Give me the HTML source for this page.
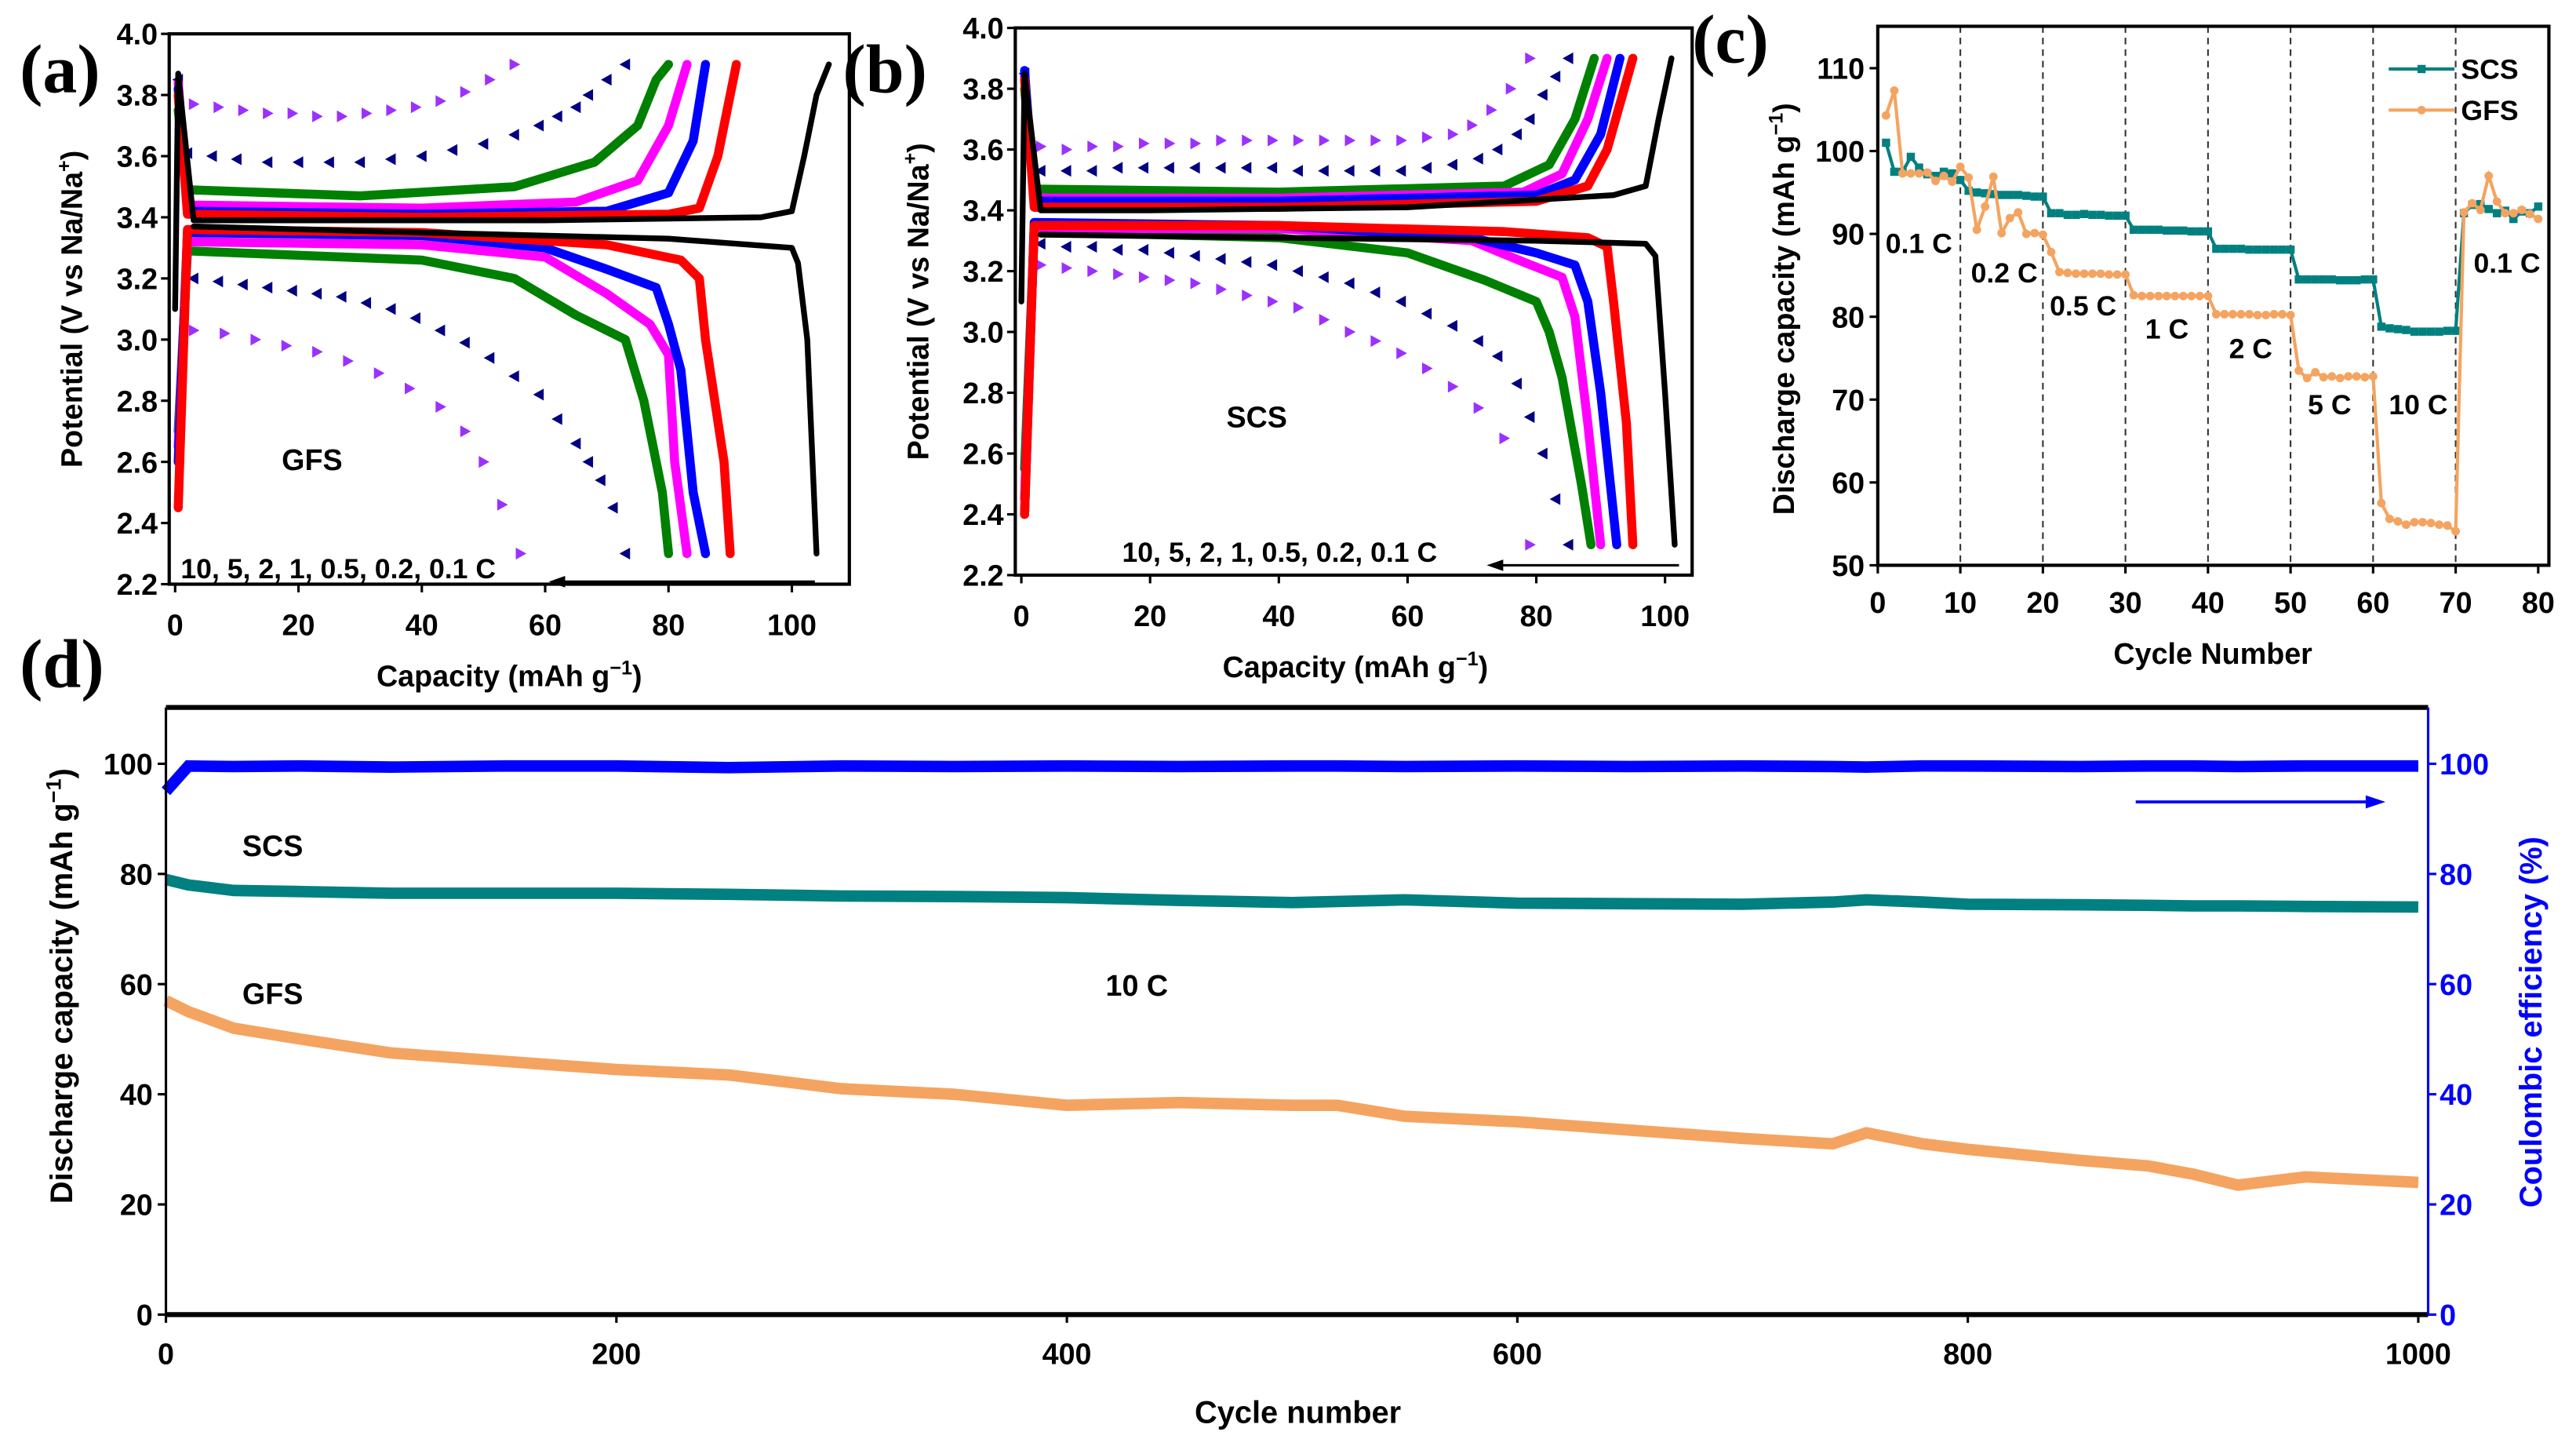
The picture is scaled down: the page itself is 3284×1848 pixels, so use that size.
<!DOCTYPE html>
<html><head><meta charset="utf-8"><style>
html,body{margin:0;padding:0;background:#fff;}
svg{display:block;}
text{font-family:"Liberation Sans",sans-serif;font-weight:bold;}
.pl{font-family:"Liberation Serif",serif;font-weight:bold;font-size:42px;}
</style></head><body>
<svg id="fig" width="3284" height="1848" viewBox="0 0 1568 882.4" preserveAspectRatio="none" xmlns="http://www.w3.org/2000/svg"></svg>
<script>
// ---------- Panel (a) GFS charge/discharge ----------
const rateNames = ["0.1C","0.2C","0.5C","1C","2C","5C","10C"];
const aChargeCap = [
 [0,0.5,3,20,60,95,100,102,104,106],
 [0.5,2,40,80,85,88,91],
 [0.5,2,40,70,80,84,86],
 [0.5,2,40,65,75,80,83],
 [0.5,2,30,55,68,75,78,80],
 [0.5,2,6,10,15,20,25,30,35,40,45,50,55,59,62,65,67,70,73],
 [3,7,11,15,19,23,27,31,35,39,43,47,51,55]];
const aChargeV = [
 [3.1,3.87,3.39,3.39,3.39,3.40,3.42,3.6,3.8,3.9],
 [3.8,3.41,3.40,3.41,3.43,3.6,3.9],
 [3.82,3.42,3.41,3.42,3.48,3.65,3.9],
 [3.84,3.44,3.43,3.45,3.52,3.7,3.9],
 [3.75,3.49,3.47,3.5,3.58,3.7,3.85,3.9],
 [3.85,3.61,3.60,3.59,3.58,3.58,3.58,3.58,3.59,3.6,3.62,3.64,3.67,3.7,3.73,3.76,3.8,3.85,3.9],
 [3.77,3.76,3.75,3.74,3.74,3.73,3.73,3.74,3.75,3.76,3.78,3.81,3.85,3.9]];
const aDisCap = [
 [3,40,80,100,101,102.5,104],
 [0.5,2,40,70,82,85,86,89,90],
 [0.5,2,40,60,70,78,80,82,84,86],
 [0.5,2,40,60,70,77,80,81,83],
 [0.5,2,40,55,65,73,76,79,80],
 [3,7,11,15,19,23,27,31,35,39,43,47,51,55,59,62,65,67,69,71,73],
 [3,8,13,18,23,28,33,38,43,47,50,53,56]];
const aDisV = [
 [3.37,3.35,3.33,3.30,3.25,3.0,2.3],
 [2.45,3.36,3.35,3.31,3.26,3.2,3.0,2.6,2.3],
 [2.6,3.35,3.34,3.30,3.23,3.17,3.05,2.9,2.5,2.3],
 [2.65,3.32,3.31,3.27,3.15,3.05,2.95,2.6,2.3],
 [2.7,3.29,3.26,3.2,3.08,3.0,2.8,2.5,2.3],
 [3.2,3.19,3.18,3.17,3.16,3.15,3.14,3.12,3.1,3.07,3.03,2.99,2.94,2.88,2.82,2.74,2.66,2.6,2.54,2.45,2.3],
 [3.03,3.02,3.0,2.98,2.96,2.93,2.89,2.84,2.78,2.7,2.6,2.46,2.3]];
// ---------- Panel (b) SCS ----------
const bChargeCap = [
 [0,0.5,3,20,60,92,97,99,101],
 [0.5,2,40,80,88,91,93,95],
 [0.5,2,40,80,86,90,93],
 [0.5,2,40,78,84,88,91],
 [0.5,2,40,75,82,86,89],
 [0.5,3,7,11,15,19,23,27,31,35,39,43,47,51,55,59,63,67,71,74,77,79,81,83,85],
 [3,7,11,15,19,23,27,31,35,39,43,47,51,55,59,63,67,70,73,76,79]];
const bChargeV = [
 [3.1,3.85,3.4,3.4,3.41,3.45,3.48,3.7,3.9],
 [3.83,3.41,3.41,3.43,3.48,3.6,3.75,3.9],
 [3.86,3.43,3.43,3.45,3.5,3.65,3.9],
 [3.84,3.44,3.44,3.46,3.52,3.7,3.9],
 [3.8,3.47,3.46,3.48,3.55,3.7,3.9],
 [3.85,3.53,3.53,3.53,3.54,3.54,3.54,3.54,3.54,3.54,3.54,3.53,3.53,3.53,3.53,3.53,3.54,3.55,3.57,3.6,3.65,3.7,3.78,3.84,3.9],
 [3.61,3.6,3.61,3.61,3.62,3.62,3.62,3.63,3.63,3.63,3.63,3.63,3.63,3.63,3.63,3.64,3.65,3.68,3.73,3.8,3.9]];
const bDisCap = [
 [3,40,80,97,98.5,100,101.5],
 [0.5,2,40,75,88,91,92,94,95],
 [0.5,2,40,70,80,86,88,90,92.5],
 [0.5,2,40,70,78,84,86,88,90],
 [0.5,2,40,60,72,80,82,84,87,88.5],
 [3,7,11,15,19,23,27,31,35,39,43,47,51,55,59,63,67,71,74,77,79,81,83,85],
 [3,7,11,15,19,23,27,31,35,39,43,47,51,55,59,63,67,71,75,79]];
const bDisV = [
 [3.32,3.31,3.3,3.29,3.25,2.8,2.3],
 [2.4,3.35,3.35,3.33,3.31,3.28,3.1,2.7,2.3],
 [2.4,3.36,3.35,3.31,3.26,3.22,3.1,2.8,2.3],
 [2.45,3.34,3.34,3.3,3.23,3.18,3.05,2.7,2.3],
 [2.55,3.33,3.31,3.26,3.17,3.1,3.0,2.85,2.5,2.3],
 [3.29,3.28,3.28,3.27,3.27,3.26,3.25,3.24,3.23,3.22,3.2,3.18,3.16,3.13,3.1,3.06,3.02,2.97,2.92,2.83,2.72,2.6,2.45,2.3],
 [3.22,3.21,3.2,3.19,3.18,3.17,3.16,3.14,3.12,3.1,3.08,3.04,3.0,2.97,2.93,2.88,2.82,2.75,2.65,2.3]];
// ---------- Panel (c) rate ----------
const cCycles = [1,2,3,4,5,6,7,8,9,10,11,12,13,14,15,16,17,18,19,20,21,22,23,24,25,26,27,28,29,30,31,32,33,34,35,36,37,38,39,40,41,42,43,44,45,46,47,48,49,50,51,52,53,54,55,56,57,58,59,60,61,62,63,64,65,66,67,68,69,70,71,72,73,74,75,76,77,78,79,80];
const cSCS = [101,97.5,97.5,99.3,98,97.2,97,97.5,97.3,96.5,95.2,95,94.9,94.8,94.7,94.7,94.7,94.6,94.5,94.5,92.5,92.5,92.3,92.3,92.4,92.3,92.3,92.2,92.2,92.2,90.5,90.5,90.5,90.5,90.4,90.4,90.4,90.3,90.3,90.3,88.2,88.2,88.2,88.2,88.1,88.1,88.1,88.1,88.1,88.1,84.5,84.5,84.5,84.5,84.5,84.4,84.4,84.4,84.5,84.5,78.8,78.6,78.5,78.4,78.2,78.2,78.2,78.2,78.3,78.3,92.5,93.5,93.6,93,92.5,92.8,91.8,92.7,92.5,93.3];
const cGFS = [104.3,107.3,97.3,97.3,97.3,97.4,96.4,97,96.3,98.1,96.8,90.5,93.3,96.9,90.1,91.9,92.6,90,90.1,89.9,87.8,85.4,85.3,85.2,85.2,85.2,85.2,85.1,85.1,85.1,82.6,82.5,82.5,82.5,82.5,82.5,82.5,82.5,82.5,82.5,80.3,80.3,80.3,80.3,80.3,80.2,80.2,80.3,80.3,80.2,73.5,72.6,73.3,72.7,72.8,72.6,72.8,72.8,72.7,72.8,57.5,55.6,55.3,54.9,55.2,55.2,55.1,54.9,54.8,54.1,92.6,93.7,92.9,97,93.9,92.5,92.5,92.9,92.4,91.8];
const cRateLabels = ["0.1 C","0.2 C","0.5 C","1 C","2 C","5 C","10 C","0.1 C"];
// ---------- Panel (d) long cycling ----------
const dCycle = [0,10,30,60,100,150,200,250,300,350,400,450,500,520,550,600,650,700,740,755,780,800,850,880,900,920,950,1000];
const dSCS = [79,78,77,76.8,76.5,76.5,76.5,76.3,76,75.9,75.7,75.2,74.8,75,75.3,74.7,74.6,74.5,74.9,75.3,74.9,74.5,74.4,74.3,74.2,74.2,74.1,74];
const dGFS = [57,55,52,50,47.5,46,44.5,43.5,41,40,38,38.5,38,38,36,35,33.5,32,31,33,31,30,28,27,25.5,23.5,25,24];
const dCE = [95,99.6,99.5,99.6,99.4,99.6,99.6,99.3,99.6,99.5,99.6,99.5,99.6,99.6,99.5,99.6,99.5,99.6,99.5,99.4,99.6,99.6,99.5,99.6,99.6,99.5,99.6,99.6];

const NS="http://www.w3.org/2000/svg";
const svg=document.getElementById('fig');
function mk(tag,attrs,parent){const e=document.createElementNS(NS,tag);for(const k in attrs)e.setAttribute(k,attrs[k]);(parent||svg).appendChild(e);return e;}
function txt(x,y,s,size,attrs,parent){const t=mk('text',Object.assign({x:x,y:y,'font-size':size},attrs||{}),parent);t.textContent=s;return t;}

const colors=["#000000","#ff0000","#0000ff","#ff00ff","#008000","#000080","#9b30ff"];
const shapes=["line","circle","up","down","diamond","left","right"];
function marker(g,x,y,shape,c,r){
  let p;
  if(shape==="circle")return mk('circle',{cx:x,cy:y,r:r,fill:c},g);
  if(shape==="up")p=[[x,y-r],[x+r,y+r*0.8],[x-r,y+r*0.8]];
  if(shape==="down")p=[[x,y+r],[x+r,y-r*0.8],[x-r,y-r*0.8]];
  if(shape==="left")p=[[x-r,y],[x+r*0.8,y-r],[x+r*0.8,y+r]];
  if(shape==="right")p=[[x+r,y],[x-r*0.8,y-r],[x-r*0.8,y+r]];
  if(shape==="diamond")p=[[x,y-r],[x+r,y],[x,y+r],[x-r,y]];
  return mk('polygon',{points:p.map(q=>q.join(',')).join(' '),fill:c},g);
}

function vPanel(name,L,R,T,B,x0,x100,chCap,chV,diCap,diV,label,annX,annY,arrX1,arrX2,lblX,lblY,sampleText,xTitleX,yTitleX){
  const g=mk('g',{});
  
  
  const X=c=>x0+(x100-x0)*c/100, Y=v=>T+(4.0-v)/1.8*(B-T);
  for(let i=6;i>=0;i--){
    const sg=mk('g',{},g);
    
    
    [[chCap[i],chV[i]],[diCap[i],diV[i]]].forEach(([cs,vs])=>{
      if(i<5){
        const pts=cs.map((c,k)=>X(c)+','+Y(vs[k])).join(' ');
        mk('polyline',{points:pts,fill:'none',stroke:colors[i],'stroke-width':i===0?3.5:5.5,'stroke-linejoin':'round','stroke-linecap':'round'},sg);
      } else {
        cs.forEach((c,k)=>marker(sg,X(c),Y(vs[k]),shapes[i],colors[i],3.6));
      }
    });
  }
  const fr=mk('rect',{x:L,y:T,width:R-L,height:B-T,fill:'none',stroke:'#000','stroke-width':2},g);
  
  
  for(let v=2.2;v<=4.001;v+=0.2){
    mk('line',{x1:L,x2:L-5,y1:Y(v),y2:Y(v),stroke:'#000','stroke-width':1.5},g);
    const t=txt(L-7,Y(v)+6.5,v.toFixed(1),18,{'text-anchor':'end'},g);
    
    
  }
  for(let c=0;c<=100;c+=20){
    mk('line',{x1:X(c),x2:X(c),y1:B,y2:B+5,stroke:'#000','stroke-width':1.5},g);
    const t=txt(X(c),B+31,String(c),18,{'text-anchor':'middle'},g);
    
    
  }
  const xt=txt(xTitleX,B+62,'Capacity (mAh g',18,{'text-anchor':'middle'},g);
  const sup=mk('tspan',{dy:-7,'font-size':12},xt);sup.textContent='−1';
  const cl=mk('tspan',{dy:7},xt);cl.textContent=')';
  
  
  const yt=txt(0,0,'Potential (V vs Na/Na',18,{'text-anchor':'middle',transform:`translate(${yTitleX},${(T+B)/2}) rotate(-90)`},g);
  const s2=mk('tspan',{dy:-7,'font-size':12},yt);s2.textContent='+';
  const c2=mk('tspan',{dy:7},yt);c2.textContent=')';
  
  
  const st=txt(lblX,lblY,sampleText,18,{'text-anchor':'middle'},g);
  
  
  const an=txt(annX,annY,'10, 5, 2, 1, 0.5, 0.2, 0.1 C',17,{},g);
  
  
  const ar=mk('g',{},g);
  
  
  mk('line',{x1:arrX1,x2:arrX2+8,y1:annY+2,y2:annY+2,stroke:'#000','stroke-width':1.5},ar);
  mk('polygon',{points:`${arrX2},${annY+2} ${arrX2+10},${annY-1.5} ${arrX2+10},${annY+5.5}`,fill:'#000'},ar);
  const pl=txt(label[1],label[2],label[0],44,{class:'pl'});
  
  
}
vPanel('panel-a-gfs-voltage',103,517,20.6,355.5,106.6,482,aChargeCap,aChargeV,aDisCap,aDisV,['(a)',12,56],110,352,496,334,190,286,'GFS',310,50);
vPanel('panel-b-scs-voltage',618,1030,17,350,621.7,1013.5,bChargeCap,bChargeV,bDisCap,bDisV,['(b)',513,56],683,342,1022,905,765,260,'SCS',825,565);

// ---------- panel c ----------
(function(){
  const g=mk('g',{});
  
  
  const L=1143,R=1551.5,T=16,B=344;
  const X=c=>L+c*(1545-1143)/80, Y=v=>344-(v-50)*(344-41.5)/60;
  for(let c=10;c<=70;c+=10){
    const d=mk('line',{x1:X(c),x2:X(c),y1:T,y2:B,stroke:'#333','stroke-width':1,'stroke-dasharray':'4,3'},g);
    
    
  }
  const series=[[cSCS,'#008080','rect','SCS'],[cGFS,'#f4a460','circle','GFS']];
  series.forEach(([vals,col,shp,nm])=>{
    const sg=mk('g',{},g);
    
    
    mk('polyline',{points:cCycles.map((c,i)=>X(c)+','+Y(vals[i])).join(' '),fill:'none',stroke:col,'stroke-width':2},sg);
    cCycles.forEach((c,i)=>{
      if(shp==='rect')mk('rect',{x:X(c)-2.5,y:Y(vals[i])-2.5,width:5,height:5,fill:col},sg);
      else mk('circle',{cx:X(c),cy:Y(vals[i]),r:2.6,fill:col},sg);
    });
  });
  const fr=mk('rect',{x:L,y:T,width:R-L,height:B-T,fill:'none',stroke:'#000','stroke-width':2},g);
  
  
  for(let v=50;v<=110;v+=10){
    mk('line',{x1:L,x2:L-5,y1:Y(v),y2:Y(v),stroke:'#000','stroke-width':1.5},g);
    const t=txt(L-8,Y(v)+6.5,String(v),18,{'text-anchor':'end'},g);
    
    
  }
  for(let c=0;c<=80;c+=10){
    mk('line',{x1:X(c),x2:X(c),y1:B,y2:B+5,stroke:'#000','stroke-width':1.5},g);
    const t=txt(X(c),B+29,String(c),18,{'text-anchor':'middle'},g);
    
    
  }
  const lx=[1168,1220,1268,1319,1370,1418,1472,1526], ly=[154,172,192,206,218,252,252,166];
  cRateLabels.forEach((s,i)=>{
    const t=txt(lx[i],ly[i],s,17,{'text-anchor':'middle'},g);
    
    
  });
  const lg=mk('g',{},g);
  
  
  mk('line',{x1:1454,x2:1494,y1:42,y2:42,stroke:'#008080','stroke-width':2},lg);
  mk('rect',{x:1471.5,y:39.5,width:5,height:5,fill:'#008080'},lg);
  txt(1498,48,'SCS',17,{},lg);
  mk('line',{x1:1454,x2:1494,y1:67,y2:67,stroke:'#f4a460','stroke-width':2},lg);
  mk('circle',{cx:1474,cy:67,r:2.6,fill:'#f4a460'},lg);
  txt(1498,73,'GFS',17,{},lg);
  const xt=txt(1347,404,'Cycle Number',18,{'text-anchor':'middle'},g);
  
  
  const yt=txt(0,0,'Discharge capacity (mAh g',18,{'text-anchor':'middle',transform:`translate(1092,188) rotate(-90)`},g);
  const s=mk('tspan',{dy:-7,'font-size':12},yt);s.textContent='−1';
  const c2=mk('tspan',{dy:7},yt);c2.textContent=')';
  
  
  const pl=txt(1030,38,'(c)',44,{class:'pl'});
  
  
})();

// ---------- panel d ----------
(function(){
  const g=mk('g',{});
  
  
  const L=101,R=1478,T=430.5,B=800;
  const X=n=>101+n*(1472-101)/1000, Y=v=>800-v*(800-464.8)/100;
  const lines=[[dSCS,'#008080','series-scs-capacity',7],[dGFS,'#f4a460','series-gfs-capacity',7]];
  lines.forEach(([vals,col,nm,w])=>{
    const p=mk('polyline',{points:dCycle.map((c,i)=>X(c)+','+Y(vals[i])).join(' '),fill:'none',stroke:col,'stroke-width':w,'stroke-linejoin':'round'},g);
    
    
  });
  const red=mk('polyline',{points:dCycle.map((c,i)=>X(c)+','+Y(Math.min(dCE[i]+0.1,100))).join(' '),fill:'none',stroke:'#ff0000','stroke-width':5},g);
  
  
  const ce=mk('polyline',{points:dCycle.map((c,i)=>X(c)+','+Y(dCE[i])).join(' '),fill:'none',stroke:'#0000ff','stroke-width':7},g);
  
  
  mk('line',{x1:L,x2:R,y1:T,y2:T,stroke:'#000','stroke-width':3},g);
  mk('line',{x1:L,x2:R,y1:B,y2:B,stroke:'#000','stroke-width':3},g);
  mk('line',{x1:L,x2:L,y1:T,y2:B,stroke:'#000','stroke-width':1.5},g);
  mk('line',{x1:R,x2:R,y1:T,y2:B,stroke:'#0000ff','stroke-width':1.5},g);
  for(let v=0;v<=100;v+=20){
    mk('line',{x1:L,x2:L-5,y1:Y(v),y2:Y(v),stroke:'#000','stroke-width':1.5},g);
    const t=txt(L-8,Y(v)+6.5,String(v),18,{'text-anchor':'end'},g);
    
    
    mk('line',{x1:R,x2:R+5,y1:Y(v),y2:Y(v),stroke:'#0000ff','stroke-width':1.5},g);
    const t2=txt(R+7,Y(v)+6.5,String(v),18,{fill:'#0000ff'},g);
    
    
  }
  for(let n=0;n<=1000;n+=200){
    mk('line',{x1:X(n),x2:X(n),y1:B,y2:B+5,stroke:'#000','stroke-width':1.5},g);
    const t=txt(X(n),B+30,String(n),18,{'text-anchor':'middle'},g);
    
    
  }
  const a=mk('g',{},g);
  
  
  mk('line',{x1:1300,x2:1442,y1:488,y2:488,stroke:'#0000ff','stroke-width':1.8},a);
  mk('polygon',{points:'1452,488 1440,484 1440,492',fill:'#0000ff'},a);
  [['SCS',166,521],['GFS',166,611],['10 C',692,606]].forEach(([s,x,y])=>{
    const t=txt(x,y,s,18,{'text-anchor':'middle'},g);
    
    
  });
  const xt=txt(790,866,'Cycle number',19,{'text-anchor':'middle'},g);
  
  
  const yt=txt(0,0,'Discharge capacity (mAh g',19,{'text-anchor':'middle',transform:`translate(44,600) rotate(-90)`},g);
  const s=mk('tspan',{dy:-7,'font-size':13},yt);s.textContent='−1';
  const c2=mk('tspan',{dy:7},yt);c2.textContent=')';
  
  
  const yr=txt(0,0,'Coulombic efficiency (%)',19,{'text-anchor':'middle',fill:'#0000ff',transform:`translate(1547,622) rotate(-90)`},g);
  
  
  const pl=txt(12,418,'(d)',44,{class:'pl'});
  
  
})();
</script>
</body></html>
